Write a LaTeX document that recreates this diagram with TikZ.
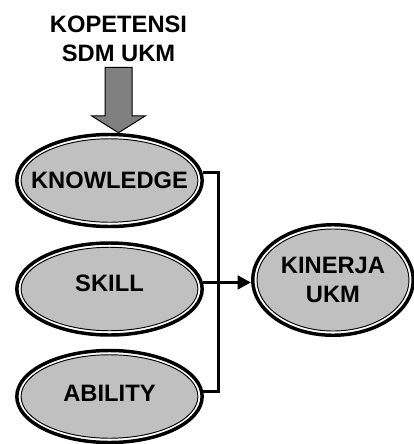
\documentclass[tikz,border=0pt]{standalone}
\usepackage{fontspec}
\setmainfont{Liberation Sans}
\usepackage{tikz}
\usetikzlibrary{shapes.geometric,arrows.meta,calc}
\definecolor{fillgray}{RGB}{192,192,192}
\definecolor{arrowgray}{RGB}{128,128,128}

\begin{document}
\begin{tikzpicture}[x=0.75pt,y=0.75pt,yscale=-1,xscale=1,
  bigfont/.style={font=\bfseries\fontsize{17.8}{22}\selectfont},
  kompbox/.style={ellipse, draw, line width=2.6pt, fill=white, inner sep=0pt,
    minimum width=139pt, minimum height=69pt, bigfont,
    path picture={\draw[line width=0.7pt, fill=fillgray]
      let \p1=(path picture bounding box.north east),
          \p2=(path picture bounding box.south west) in
      (path picture bounding box.center) ellipse ({(\x1-\x2)/2-3.2pt} and {(\y1-\y2)/2-3.2pt});}},
  joinline/.style={line width=2.6pt},
  blockarrow/.style={draw, line width=0.75pt, fill=arrowgray}]
\useasboundingbox (0,0) rectangle (414,444);

%Text: title
\node[bigfont, align=center, inner sep=0pt] (title) at (118.5,38.5) {KOPETENSI\\SDM UKM};

%Shape: Ellipse
\node[kompbox] (know) at (109.5,180.5) {\makebox[0pt]{KNOWLEDGE}};
%Shape: Ellipse
\node[kompbox, text depth=8.25pt] (skill) at (109.5,289) {\makebox[0pt]{SKILL}};
%Shape: Ellipse
\node[kompbox, text depth=5.25pt] (abil) at (109.5,396.5) {\makebox[0pt]{ABILITY}};
%Shape: Ellipse
\node[kompbox, minimum width=120.4pt, minimum height=82.9pt, align=center] (kin) at (333,280) {KINERJA\\UKM};

%Shape: Block Arrow
\coordinate (tip) at (know.north -| title.south);
\draw[blockarrow] (tip) -- ++(27,-17) -- ++(-13.5,0) -- ++(0,-48.5) -- ++(-27,0) -- ++(0,48.5) -- ++(-13.5,0) -- cycle;

%Straight Lines
\coordinate (jn) at (218.5,282);
\draw[joinline] (know.5) -| (jn) |- (abil.3.5);
%Straight Lines
\draw[joinline, -{Triangle[length=10pt,width=10pt]}] (skill.4) -- (skill.4 -| kin.west);

\end{tikzpicture}
\end{document}
